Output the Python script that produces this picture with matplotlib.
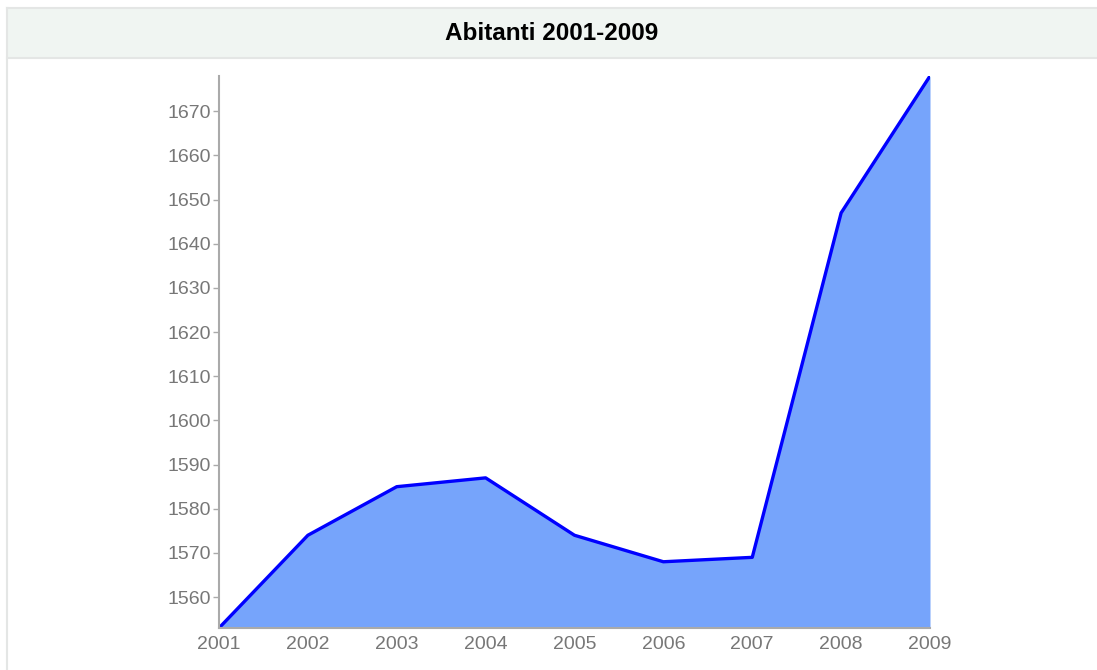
import matplotlib
matplotlib.use("Agg")
import matplotlib.pyplot as plt
from matplotlib.lines import Line2D
from matplotlib.patches import Rectangle

years = ["2001", "2002", "2003", "2004", "2005", "2006", "2007", "2008", "2009"]
abitanti = [1553, 1574, 1585, 1587, 1574, 1568, 1569, 1647, 1678]
yticks = [1560, 1570, 1580, 1590, 1600, 1610, 1620, 1630, 1640, 1650, 1660, 1670]
title = "Abitanti 2001-2009"

plt.rcParams['font.family'] = ['Liberation Sans', 'DejaVu Sans']

W, H = 1097, 670
fig = plt.figure(figsize=(W / 100, H / 100), dpi=100)

# Title band
fig.patches.append(Rectangle((7 / W, 1 - 58 / H), 1 - 7 / W, 50 / H, transform=fig.transFigure,
                             facecolor="#f0f5f2", edgecolor="none", zorder=0))
for (x0, y0, x1, y1) in [(7, 8, W, 8), (7, 58, W, 58), (7, 8, 7, H)]:
    fig.add_artist(Line2D([x0 / W, x1 / W], [1 - y0 / H, 1 - y1 / H], transform=fig.transFigure,
                          color="#e4e6e5", lw=1.5))
fig.text((7 + W) / 2 / W, 1 - 33 / H, title, ha="center", va="center",
         fontsize=17.5, fontweight="bold", color="#000000")

ax = fig.add_axes([219 / W, 1 - 628 / H, (930 - 219) / W, (628 - 76) / H])
x = list(range(len(years)))
ax.fill_between(x, abitanti, min(abitanti), color="#76a4fb", lw=0)
ax.plot(x, abitanti, color="#0000ff", lw=2.4, solid_joinstyle="round")
ax.set_xlim(0, len(years) - 1)
ax.set_ylim(min(abitanti), max(abitanti))
ax.set_xticks(x)
ax.set_xticklabels(years)
ax.set_yticks(yticks)
for s in ["top", "right"]:
    ax.spines[s].set_visible(False)
for s in ["left", "bottom"]:
    ax.spines[s].set_color("#aaaaaa")
    ax.spines[s].set_linewidth(1.5)
ax.tick_params(axis="y", length=4, width=1, color="#aaaaaa", labelcolor="#777777", labelsize=14, pad=2)
ax.tick_params(axis="x", length=0, labelcolor="#777777", labelsize=14, pad=6)
ax.set_facecolor("none")

fig.savefig("out.png", dpi=100)
